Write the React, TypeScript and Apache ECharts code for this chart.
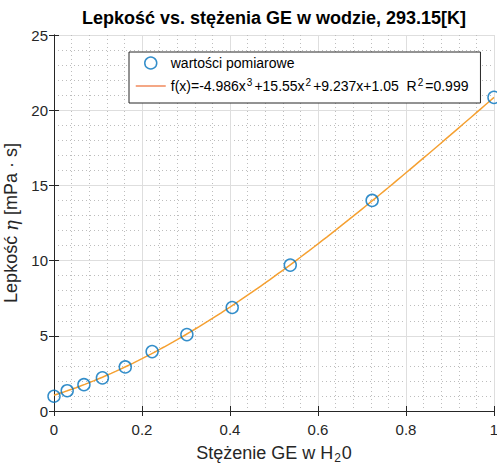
import React, { useEffect, useRef } from "react";
import * as echarts from "echarts";

const concentration = [0, 0.03, 0.068, 0.11, 0.162, 0.223, 0.302, 0.405, 0.537, 0.723, 1.0];
const viscosity = [0.98, 1.35, 1.75, 2.2, 2.93, 3.95, 5.08, 6.88, 9.7, 14.0, 20.85];
// Fit polynomial coefficients as printed in the legend: c0 + c1 x + c2 x^2 + c3 x^3
const fitCoefficients = [1.05, 9.237, 15.55, -4.986];
const xTicks = [0, 0.2, 0.4, 0.6, 0.8, 1];
const yTicks = [0, 5, 10, 15, 20, 25];

const titleText = "Lepkość vs. stężenia GE w wodzie, 293.15[K]";
const scatterName = "wartości pomiarowe";
const fitName = "fit";

export default function App() {
  const ref = useRef<HTMLDivElement>(null);
  useEffect(() => {
    if (!ref.current) return;
    const chart = echarts.init(ref.current, undefined, { renderer: "svg" });
    const fitPts: number[][] = [];
    for (let i = 0; i <= 100; i++) {
      const x = i / 100;
      const y = fitCoefficients.reduce((s, c, k) => s + c * Math.pow(x, k), 0);
      fitPts.push([x, y]);
    }
    const axisColor = "#262626";
    const font = "Liberation Sans, Arial, Helvetica, sans-serif";
    const baseX = {
      type: "value" as const,
      min: xTicks[0],
      max: xTicks[xTicks.length - 1],
      interval: 0.2,
      axisLine: { show: true, lineStyle: { color: axisColor, width: 1 } },
      axisTick: { show: true, inside: true, length: 5, lineStyle: { color: axisColor } },
      minorTick: { show: false, splitNumber: 5 },
    };
    const baseY = {
      type: "value" as const,
      min: yTicks[0],
      max: yTicks[yTicks.length - 1],
      interval: 5,
      axisLine: { show: true, lineStyle: { color: axisColor, width: 1 } },
      axisTick: { show: true, inside: true, length: 5, lineStyle: { color: axisColor } },
      minorTick: { show: false, splitNumber: 5 },
    };
    chart.setOption({
      animation: false,
      backgroundColor: "#ffffff",
      textStyle: { fontFamily: font },
      title: {
        text: titleText,
        left: 274,
        top: 9,
        padding: 0,
        textAlign: "center",
        textStyle: { fontSize: 18, fontWeight: "bold", color: "#000", fontFamily: font },
      },
      grid: { left: 54, right: 3, top: 35, bottom: 53, containLabel: false, outerBoundsMode: "none" },
      legend: {
        orient: "vertical",
        left: 129,
        top: 52,
        itemWidth: 30,
        itemHeight: 12,
        itemGap: 5,
        padding: [2, 12, 8, 6],
        borderColor: axisColor,
        borderWidth: 1,
        backgroundColor: "#ffffff",
        textStyle: {
          fontSize: 14,
          color: "#000",
          fontFamily: font,
          lineHeight: 18,
          rich: {
            sup: { fontSize: 10, verticalAlign: "top", lineHeight: 18, padding: [0, 2, 7, 1], color: "#000" },
            t: { fontSize: 14, lineHeight: 18, color: "#000" },
          },
        },
        formatter: (name: string) =>
          name === fitName
            ? "{t|f(x)=-4.986x}{sup|3}{t|+15.55x}{sup|2}{t|+9.237x+1.05  R}{sup|2}{t|=0.999}"
            : name,
        data: [
          { name: scatterName, icon: "circle", itemStyle: { color: "rgba(0,0,0,0)", borderColor: "#0072BD", borderWidth: 1.5 } },
          { name: fitName, lineStyle: { color: "#F08A5D", width: 1.5 }, itemStyle: { opacity: 0 } },
        ],
      },
      xAxis: [
        {
          ...baseX,
          position: "bottom",
          name: "Stężenie GE w H{sub|2}0",
          nameLocation: "middle",
          nameGap: 31,
          nameTextStyle: {
            fontSize: 18,
            color: axisColor,
            fontFamily: font,
            rich: { sub: { fontSize: 12, verticalAlign: "bottom", padding: [10, 1, 0, 1], color: axisColor } },
          },
          axisLabel: {
            fontSize: 15,
            color: axisColor,
            margin: 11,
            fontFamily: font,
            formatter: (v: number) => String(Math.round(v * 10) / 10),
          },
          splitLine: { show: true, lineStyle: { color: "#dedede", width: 1 } },
          minorSplitLine: { show: true, lineStyle: { color: "#bdbdbd", width: 1, type: [1, 3] } },
        },
        {
          ...baseX,
          position: "top",
          axisLabel: { show: false },
          splitLine: { show: false },
        },
      ],
      yAxis: [
        {
          ...baseY,
          position: "left",
          name: "Lepkość {i|η} [mPa · s]",
          nameLocation: "middle",
          nameGap: 23,
          nameRotate: 90,
          nameTextStyle: {
            fontSize: 18,
            color: axisColor,
            fontFamily: font,
            rich: { i: { fontSize: 18, fontStyle: "italic", fontFamily: "DejaVu Serif, serif", color: axisColor } },
          },
          axisLabel: { fontSize: 15, color: axisColor, margin: 6, fontFamily: font },
          splitLine: { show: true, lineStyle: { color: "#dedede", width: 1 } },
          minorSplitLine: { show: true, lineStyle: { color: "#bdbdbd", width: 1, type: [1, 3] } },
        },
        {
          ...baseY,
          position: "right",
          axisLabel: { show: false },
          splitLine: { show: false },
        },
      ],
      series: [
        {
          name: fitName,
          type: "line",
          data: fitPts,
          showSymbol: false,
          symbol: "none",
          lineStyle: { color: "#F5A031", width: 1.5 },
          itemStyle: { color: "#F5A031" },
          z: 2,
        },
        {
          name: scatterName,
          type: "scatter",
          data: concentration.map((x, i) => [x, viscosity[i]]),
          symbol: "circle",
          symbolSize: 12,
          itemStyle: { color: "rgba(0,0,0,0)", borderColor: "#0072BD", borderWidth: 1.5 },
          z: 3,
        },
      ],
    });
    return () => chart.dispose();
  }, []);
  return <div ref={ref} style={{ width: 497, height: 464, position: "absolute", left: 0, top: 0 }} />;
}
